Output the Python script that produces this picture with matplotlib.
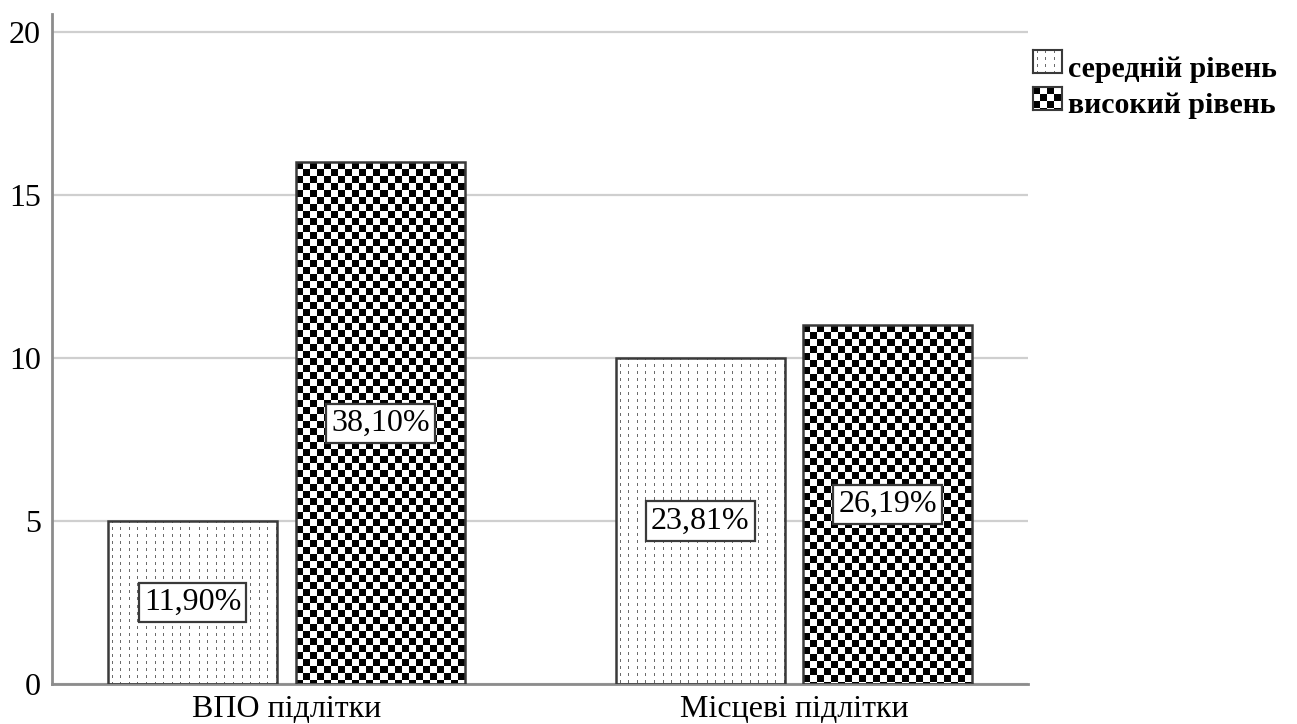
import numpy as np
import matplotlib
matplotlib.use("Agg")
import matplotlib.pyplot as plt

# Counts of teenagers by group and level
groups = ["ВПО підлітки", "Місцеві підлітки"]
levels = ["середній рівень", "високий рівень"]
medium_counts = [5, 10]
high_counts = [16, 11]
total_count = 42
y_ticks = [0, 5, 10, 15, 20]

W, H, DPI = 1297, 724, 100
FONT = "Liberation Serif"
plt.rcParams["font.family"] = [FONT, "DejaVu Serif"]

EDGE = "#3a3a3a"
GRID = "#cfcfcf"
SPINE = "#8c8c8c"
FS = 23


def dotted_texture(h, w):
    img = np.ones((h, w, 3))
    rows = np.arange(h)
    col_pos = (4 + np.arange(0, w, 8.6)).astype(int)
    col_pos = col_pos[col_pos < w]
    row_mask = (rows % 7) < 3
    for c in col_pos:
        img[row_mask, c, :] = 0.42
    return img


def checker_texture(h, w, s=7):
    rows = np.arange(h)[:, None]
    cols = np.arange(w)[None, :]
    black = ((rows // s + cols // s) % 2) == 0
    img = np.ones((h, w, 3))
    img[black] = 0.0
    return img


textures = [dotted_texture, checker_texture]

fig = plt.figure(figsize=(W / DPI, H / DPI), dpi=DPI)
ax = fig.add_axes([52 / W, 40 / H, 976 / W, 670 / H])
ax.set_xlim(-0.462, 1.461)
ax.set_ylim(0, 20.55)

x = np.arange(len(groups))
bar_w = 0.333
offset = 0.185
series = [medium_counts, high_counts]

for i, (vals, tex) in enumerate(zip(series, textures)):
    pos = x + (-offset if i == 0 else offset)
    bars = ax.bar(pos, vals, width=bar_w, facecolor="none", edgecolor=EDGE,
                  linewidth=1.8, zorder=3)
    for patch, v, px in zip(bars, vals, pos):
        x0, y0 = patch.get_x(), patch.get_y()
        x1, y1 = x0 + patch.get_width(), y0 + patch.get_height()
        (dx0, dy0), (dx1, dy1) = ax.transData.transform([(x0, y0), (x1, y1)])
        hp, wp = max(int(round(dy1 - dy0)), 1), max(int(round(dx1 - dx0)), 1)
        im = ax.imshow(tex(hp, wp), extent=(x0, x1, y0, y1), origin="upper",
                       interpolation="nearest", aspect="auto", zorder=2)
        im.set_clip_path(patch)
        pct = v / total_count * 100
        txt = f"{pct:.2f}%".replace(".", ",")
        ax.text(px, v / 2, txt, ha="center", va="center", fontsize=FS,
                zorder=5,
                bbox=dict(boxstyle="square,pad=0.16", facecolor="white",
                          edgecolor=EDGE, linewidth=1.6))

ax.set_xlim(-0.462, 1.461)
ax.set_ylim(0, 20.55)
ax.set_yticks(y_ticks)
ax.set_yticklabels([str(t) for t in y_ticks], fontsize=FS,
                   verticalalignment="center_baseline")
ax.set_xticks(x)
ax.set_xticklabels(groups, fontsize=FS)
ax.tick_params(axis="both", length=0)
ax.tick_params(axis="y", pad=8)
ax.tick_params(axis="x", pad=8)
ax.yaxis.grid(True, color=GRID, linewidth=1.6)
ax.set_axisbelow(True)
for s in ["top", "right"]:
    ax.spines[s].set_visible(False)
ax.spines["left"].set_color(SPINE)
ax.spines["left"].set_linewidth(2)
ax.spines["bottom"].set_color(SPINE)
ax.spines["bottom"].set_linewidth(2)

# Legend: textured swatches with labels on the right
sw_x, sw_w, sw_h = 1033, 29, 23
row_tops = [50, 87]
baselines = [77, 113]
for lab, tex, top, base in zip(levels, textures, row_tops, baselines):
    sax = fig.add_axes([sw_x / W, 1 - (top + sw_h) / H, sw_w / W, sw_h / H])
    sax.imshow(tex(sw_h, sw_w), interpolation="nearest", aspect="auto")
    sax.set_xticks([])
    sax.set_yticks([])
    for sp in sax.spines.values():
        sp.set_color(EDGE)
        sp.set_linewidth(1.5)
    fig.text((sw_x + sw_w + 6) / W, 1 - base / H, lab,
             ha="left", va="baseline", fontsize=21.5, fontweight="bold")

fig.savefig("out.png", dpi=DPI)
